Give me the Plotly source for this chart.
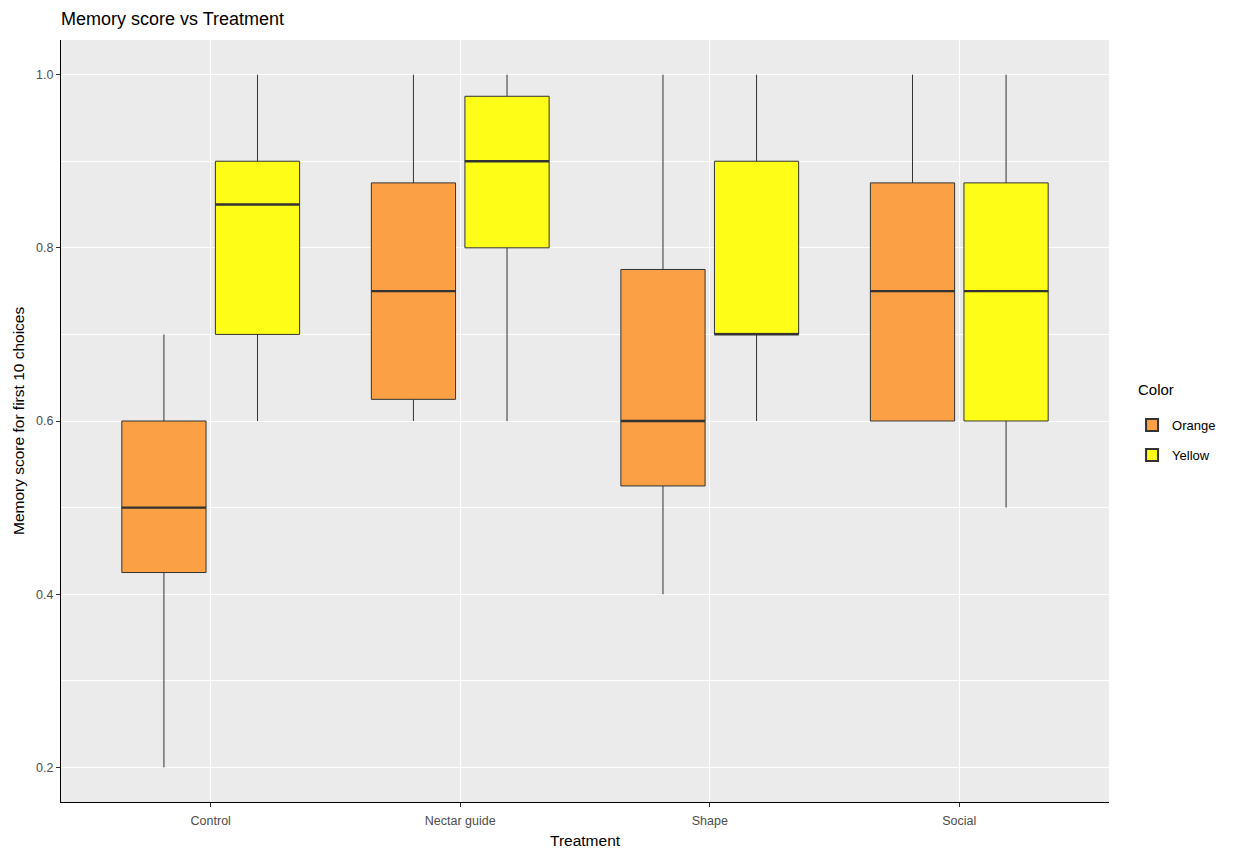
import plotly.graph_objects as go

# Treatment groups on the x axis
treatments = ["Control", "Nectar guide", "Shape", "Social"]

# Box statistics per flower colour (one entry per treatment)
orange_lower = [0.2, 0.6, 0.4, 0.6]
orange_q1 = [0.425, 0.625, 0.525, 0.6]
orange_median = [0.5, 0.75, 0.6, 0.75]
orange_q3 = [0.6, 0.875, 0.775, 0.875]
orange_upper = [0.7, 1.0, 1.0, 1.0]

yellow_lower = [0.6, 0.6, 0.6, 0.5]
yellow_q1 = [0.7, 0.8, 0.7, 0.6]
yellow_median = [0.85, 0.9, 0.7, 0.75]
yellow_q3 = [0.9, 0.975, 0.9, 0.875]
yellow_upper = [1.0, 1.0, 1.0, 1.0]

y_ticks = [0.2, 0.4, 0.6, 0.8, 1.0]
y_minor = [0.3, 0.5, 0.7, 0.9]

# dodge layout (ggplot-style: dodge width 0.75, padding 0.1)
DODGE = 0.75
BOX_W = DODGE / 2 * 0.9
OFFSET = DODGE / 4

series = [
    ("Orange", "#FBA044", -OFFSET, orange_lower, orange_q1, orange_median, orange_q3, orange_upper),
    ("Yellow", "#FDFD17", OFFSET, yellow_lower, yellow_q1, yellow_median, yellow_q3, yellow_upper),
]

fig = go.Figure()
positions = list(range(1, len(treatments) + 1))

for name, color, off, lo, q1, med, q3, hi in series:
    xs = [p + off for p in positions]
    fig.add_trace(go.Box(
        name=name, x=xs, q1=q1, median=med, q3=q3,
        lowerfence=lo, upperfence=hi,
        width=BOX_W, whiskerwidth=0,
        fillcolor=color, line=dict(color="#333333", width=1),
        boxpoints=False, hoverinfo="skip", legendgroup=name,
    ))
    # thicker median bar
    mx, my = [], []
    for x, m in zip(xs, med):
        mx += [x - BOX_W / 2, x + BOX_W / 2, None]
        my += [m, m, None]
    fig.add_trace(go.Scatter(
        x=mx, y=my, mode="lines", line=dict(color="#333333", width=2.4),
        showlegend=False, hoverinfo="skip", legendgroup=name,
    ))

# legend title placed as a separate label above the keys
fig.add_annotation(
    text="Color", xref="paper", yref="paper", x=1.026, y=0.5407,
    xanchor="left", yanchor="middle", showarrow=False,
    font=dict(size=15, color="black"),
)
# axis titles
fig.add_annotation(
    text="Treatment", xref="paper", yref="paper", x=0.5, y=-0.0500,
    xanchor="center", yanchor="middle", showarrow=False,
    font=dict(size=15.5, color="black"),
)
fig.add_annotation(
    text="Memory score for first 10 choices", xref="paper", yref="paper",
    x=-0.0410, y=0.5, textangle=-90, xanchor="center", yanchor="middle",
    showarrow=False, font=dict(size=15.5, color="black"),
)

fig.update_layout(
    width=1242, height=851,
    margin=dict(l=61, r=133, t=40, b=49),
    paper_bgcolor="white", plot_bgcolor="#EBEBEB",
    font=dict(family="Liberation Sans, Arial, sans-serif", color="black"),
    title=dict(text="Memory score vs Treatment", x=0, xref="paper", xanchor="left",
               y=0.985, yanchor="top", font=dict(size=18, color="black")),
    showlegend=True,
    legend=dict(
        x=1.022, xanchor="left", y=0.5144, yanchor="top",
        font=dict(size=13, color="black"), bgcolor="white",
        tracegroupgap=10, itemsizing="constant",
    ),
    xaxis=dict(
        range=[0.4, 4.6], tickmode="array", tickvals=positions, ticktext=treatments,
        showgrid=True, gridcolor="white", gridwidth=1.1, zeroline=False,
        showline=True, linecolor="black", linewidth=1.2,
        ticks="outside", ticklen=4, tickcolor="#333333",
        tickfont=dict(size=12.5, color="#4D4D4D"), ticklabelstandoff=3,
        automargin=False,
    ),
    yaxis=dict(
        range=[0.16, 1.04], tickmode="array", tickvals=y_ticks,
        ticktext=[f"{v:.1f}" for v in y_ticks],
        showgrid=True, gridcolor="white", gridwidth=1.1, zeroline=False,
        showline=True, linecolor="black", linewidth=1.2,
        ticks="outside", ticklen=4, tickcolor="#333333",
        tickfont=dict(size=12.5, color="#4D4D4D"),
        minor=dict(tickmode="array", tickvals=y_minor, showgrid=True,
                   gridcolor="white", gridwidth=0.5, ticks=""),
        automargin=False,
    ),
)

fig.write_html("out.html")
